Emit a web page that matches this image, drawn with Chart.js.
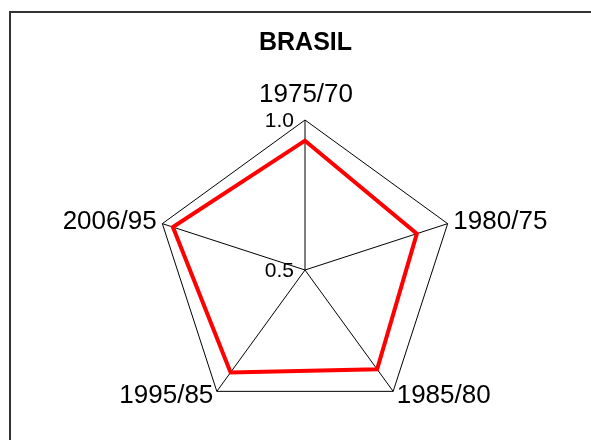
<!DOCTYPE html>
<html>
<head>
<meta charset="utf-8">
<script src="https://cdn.jsdelivr.net/npm/chart.js@4"></script>
<style>
  body { margin: 0; background: #fff; overflow: hidden; }
  .wrap { position: relative; width: 591px; height: 440px; }
  .frame { position: absolute; left: 9px; top: 11px; width: 620px; height: 460px; border: 2px solid #333; }
  canvas { position: absolute; left: 0; top: 0; }
</style>
</head>
<body>
<div class="wrap">
  <div class="frame"></div>
  <canvas id="radar" width="591" height="440"></canvas>
</div>
<script>
const categories = ['1975/70', '1980/75', '1985/80', '1995/85', '2006/95'];
const values = [0.931, 0.892, 0.909, 0.922, 0.963];
const tickValues = [0.5, 1.0];

const FONT = '"Liberation Sans", Arial, sans-serif';
Chart.defaults.color = '#000';
Chart.defaults.font.family = FONT;

// point labels and tick labels, placed from the radial scale
const labelPlugin = {
  id: 'labels',
  afterDraw(chart) {
    const scale = chart.scales.r;
    const ctx = chart.ctx;
    ctx.save();
    ctx.fillStyle = '#000';
    ctx.font = '26px ' + FONT;
    categories.forEach((label, i) => {
      const p = scale.getPointPosition(i, scale.drawingArea + 6);
      if (i === 0) {
        ctx.textAlign = 'center';
        ctx.textBaseline = 'alphabetic';
        ctx.fillText(label, p.x + 1, p.y - 12);
      } else {
        ctx.textAlign = p.x > scale.xCenter ? 'left' : 'right';
        ctx.textBaseline = 'middle';
        ctx.fillText(label, p.x, p.y);
      }
    });
    ctx.font = '21px ' + FONT;
    ctx.textAlign = 'right';
    ctx.textBaseline = 'alphabetic';
    tickValues.forEach(v => {
      const d = scale.getDistanceFromCenterForValue(v);
      ctx.fillText(v.toFixed(1), scale.xCenter - 11, scale.yCenter - d + 7);
    });
    ctx.restore();
  }
};

new Chart(document.getElementById('radar'), {
  type: 'radar',
  data: {
    labels: categories,
    datasets: [{
      data: values,
      borderColor: '#ff0000',
      borderWidth: 4,
      borderJoinStyle: 'miter',
      fill: false,
      pointRadius: 0,
      pointHoverRadius: 0
    }]
  },
  options: {
    responsive: false,
    animation: false,
    layout: { padding: { top: 28, bottom: 20, left: 150, right: 130 } },
    plugins: {
      legend: { display: false },
      tooltip: { enabled: false },
      title: {
        display: true,
        text: 'BRASIL',
        color: '#000',
        font: { size: 25, weight: 'bold', family: FONT },
        padding: { top: 0, bottom: 62 }
      }
    },
    scales: {
      r: {
        min: 0.5,
        max: 1.0,
        ticks: { display: false, stepSize: 0.5 },
        grid: { color: '#000', lineWidth: 1, circular: false },
        angleLines: { color: '#000', lineWidth: 1 },
        pointLabels: { display: false }
      }
    }
  },
  plugins: [labelPlugin]
});
</script>
</body>
</html>
